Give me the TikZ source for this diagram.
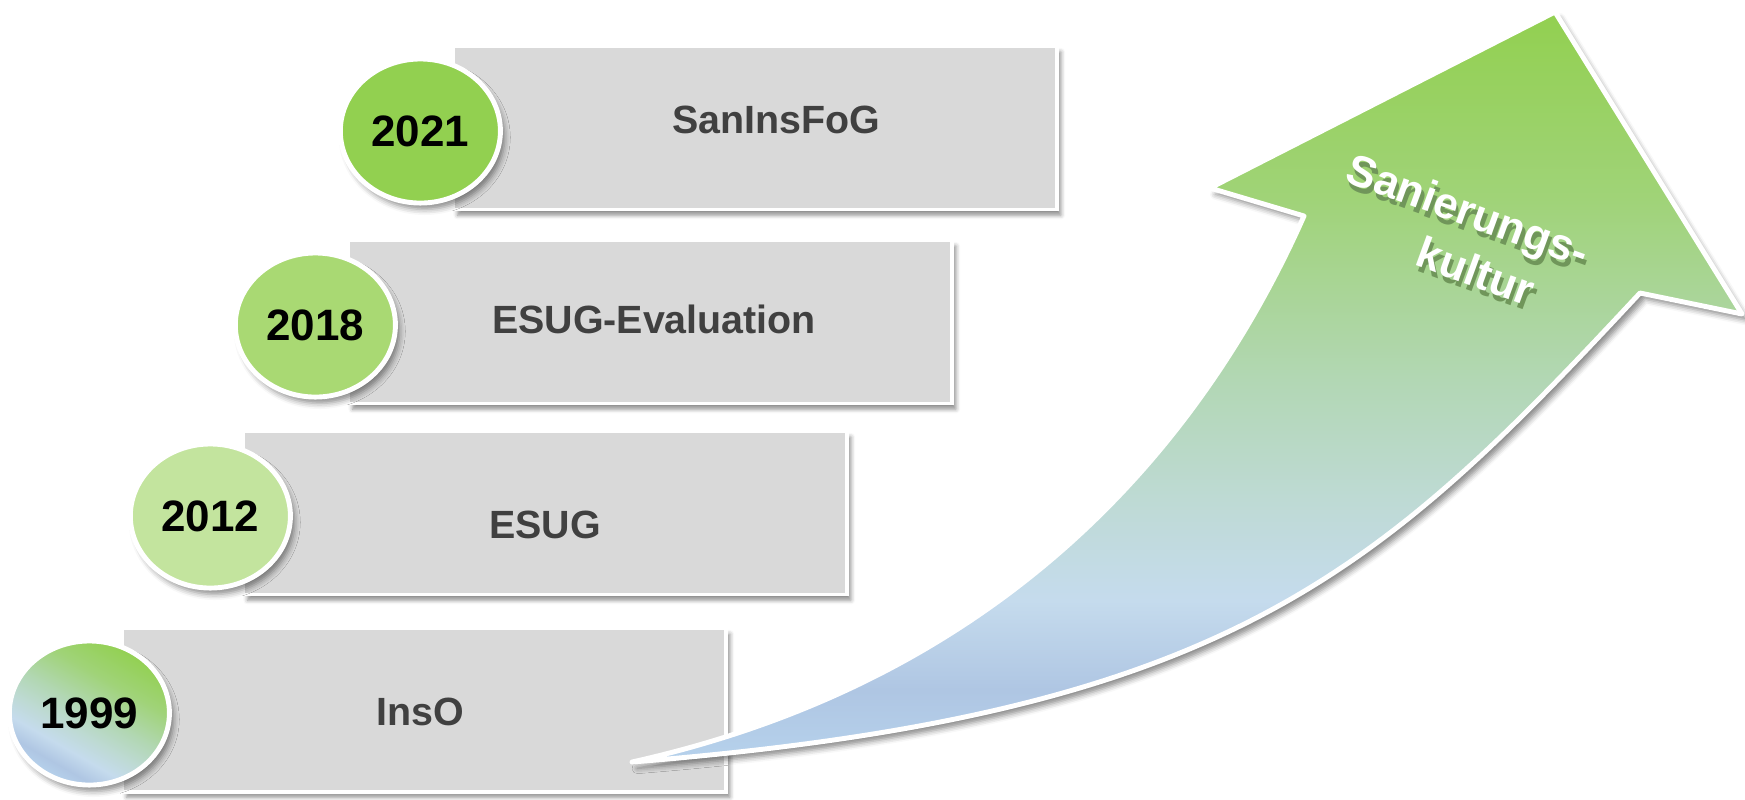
\documentclass[tikz,border=0pt]{standalone}
\usepackage{fontspec}
\setmainfont{Liberation Sans}
\usetikzlibrary{shapes.geometric,shadows.blur}

\definecolor{kgreen}{RGB}{146,208,80}
\definecolor{kgreen2}{RGB}{160,211,120}
\definecolor{kmint}{RGB}{178,215,180}
\definecolor{kteal}{RGB}{190,218,212}
\definecolor{klight}{RGB}{197,219,237}
\definecolor{kblue}{RGB}{175,198,227}
\definecolor{kblue2}{RGB}{182,210,236}
\definecolor{ball18}{RGB}{169,217,115}
\definecolor{ball12}{RGB}{195,228,158}
\definecolor{boxgray}{RGB}{217,217,217}
\definecolor{labelgray}{RGB}{64,64,64}
\definecolor{kshadow}{RGB}{112,150,90}

% Verlauf gruen -> blau (unten nach oben)
\pgfdeclareverticalshading{kultur}{100bp}{color(0bp)=(kblue2); color(25bp)=(kblue2);
  color(29.8bp)=(kblue); color(35.8bp)=(klight); color(42.5bp)=(kteal);
  color(50.5bp)=(kmint); color(62.5bp)=(kgreen2); color(75bp)=(kgreen); color(100bp)=(kgreen)}

\newcommand\kschatten[1]{\makebox[0pt][l]{\kern1.2pt\raisebox{-1.4pt}{\textcolor{kshadow}{#1}}}#1}

\begin{document}
\begin{tikzpicture}[x=0.01cm, y=-0.01cm,
    lawbox/.style={draw=white, line width=1.1pt, fill=boxgray, minimum width=6.03cm,
      minimum height=1.63cm, inner sep=0pt,
      blur shadow={shadow xshift=1.2pt, shadow yshift=-1.6pt, shadow blur radius=1.2pt, shadow opacity=45}},
    lawtext/.style={text=labelgray, inner sep=0pt, font=\fontsize{11.2}{13}\selectfont\bfseries},
    yearball/.style={ellipse, draw=white, line width=1.4pt, minimum width=1.6cm,
      minimum height=1.44cm, inner sep=0pt, text=black,
      font=\fontsize{12.5}{15}\selectfont\bfseries,
      blur shadow={shadow xshift=1.2pt, shadow yshift=-1.8pt, shadow blur radius=1.6pt, shadow opacity=45}},
    b21/.style={fill=kgreen}, b18/.style={fill=ball18}, b12/.style={fill=ball12},
    b99/.style={shading=kultur, shading angle=-30}]
\useasboundingbox (0,0) rectangle (1745,799);

% Stufen mit Jahreszahlen
\foreach \yr/\law/\cx/\cy/\lx/\ly/\bst in {2021/SanInsFoG/755/128/21/-8/b21,
        2018/ESUG-Evaluation/650/322/4/-3/b18, 2012/ESUG/545/513/0/12/b12,
        1999/InsO/424/710/-4/2/b99} {
    \node[lawbox] (box\yr) at (\cx,\cy) {};
    \node[lawtext] (law\yr) at ([shift={(\lx,\ly)}]box\yr.center) {\law};
    \node[yearball, \bst] (ball\yr) at ([xshift=-0.31cm,yshift=-0.03cm]box\yr.west) {\yr};
}

% Pfeil
\draw[white, line width=1.4pt, line join=round, shading=kultur,
      blur shadow={shadow xshift=1.5pt, shadow yshift=-1.8pt, shadow blur radius=1.5pt, shadow opacity=45}]
    (632,762) .. controls (1000,680) and (1200,450) .. (1304,216) -- (1210,188) -- (1555,12)
    -- (1742,314) -- (1640,293) .. controls (1380,572) and (1232,714) .. (632,762) -- cycle;
\node[rotate=-20, align=center, text=white, font=\fontsize{12.5}{15.5}\selectfont\bfseries]
    (kulturtext) at (1458,238) {\kschatten{Sanierungs-}\\\hspace*{16pt}\kschatten{kultur}};
\end{tikzpicture}
\end{document}
